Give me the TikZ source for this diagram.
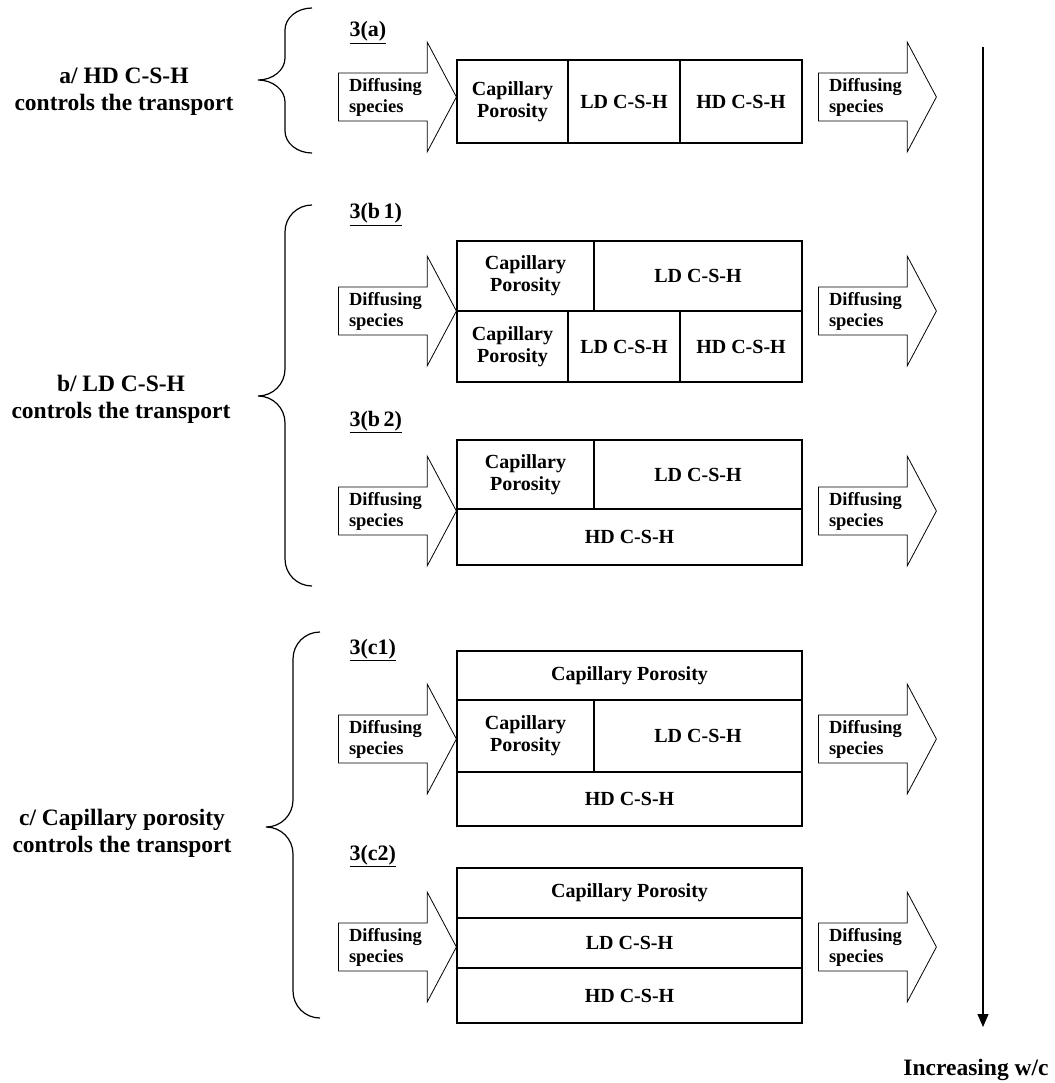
\documentclass[tikz,border=0pt]{standalone}
\usepackage{fontspec}
\setmainfont{Liberation Serif}
\usepackage{tikz}
\usetikzlibrary{positioning, arrows.meta, shapes.arrows}

\begin{document}
\begin{tikzpicture}[
    x=1pt, y=-1pt,
    cell/.style={draw, line width=1.3pt, inner sep=0pt, outer sep=0pt, anchor=north west, align=center, font=\fontsize{20}{22}\selectfont\bfseries},
    hline/.style={line width=2.6pt},
    flow/.style={single arrow, draw, line width=0.8pt, minimum height=118pt, minimum width=110pt, single arrow head extend=27.5pt, single arrow tip angle=124, inner xsep=1pt, inner ysep=2pt, text width=84pt, align=left, font=\fontsize{18.5}{21}\selectfont\bfseries},
    tag/.style={anchor=base west, font=\fontsize{22}{24}\selectfont\bfseries},
    side/.style={align=center, font=\fontsize{23.5}{27}\selectfont\bfseries},
    curly/.style={line width=1.2pt},
    axis/.style={line width=1.2pt, -{Triangle[length=13pt, width=11pt]}}
]
    \useasboundingbox (0,0) rectangle (1054,1083);

    \def\xl{457}  % left edge of the layers
    \def\xin{391} % incoming arrows
    \def\xout{871} % outgoing arrows

    % left texts
    \node[side] (lbla) at (124,92) {a/ HD C-S-H\\controls the transport};
    \node[side] (lblb) at (121,399) {b/ LD C-S-H\\controls the transport};
    \node[side] (lblc) at (122,833) {c/ Capillary porosity\\controls the transport};

    % braces
    \draw[curly] (312,8) .. controls (297,8) and (285,18) .. (285,30) -- (285,58) .. controls (285,70) and (273,80) .. (258,80)
        .. controls (273,80) and (285,90) .. (285,102) -- (285,131) .. controls (285,143) and (297,153) .. (312,153);
    \draw[curly] (312,205) .. controls (297,205) and (285,217) .. (285,232) -- (285,369) .. controls (285,384) and (273,396) .. (258,396)
        .. controls (273,396) and (285,408) .. (285,423) -- (285,559) .. controls (285,574) and (297,586) .. (312,586);
    \draw[curly] (320,632) .. controls (305,632) and (293,644) .. (293,659) -- (293,800) .. controls (293,815) and (281,827) .. (266,827)
        .. controls (281,827) and (293,839) .. (293,854) -- (293,991) .. controls (293,1006) and (305,1018) .. (320,1018);

    % 3(a)
    \node[tag] (taga) at (346,37) {\underline{3(a)}};
    \node[cell, minimum width=111, minimum height=83] (acap) at (\xl,60) {Capillary\\Porosity};
    \node[cell, minimum width=112, minimum height=83, right=0pt of acap] (ald) {LD C-S-H};
    \node[cell, minimum width=122, minimum height=83, right=0pt of ald] (ahd) {HD C-S-H};
    \draw[hline] (acap.north west) -- (ahd.north east);
    \draw[hline] (acap.south west) -- (ahd.south east);
    \node[flow] (ina) at (\xin,97) {Diffusing\\species};
    \node[flow] (outa) at (\xout,97) {Diffusing\\species};

    % 3(b 1)
    \node[tag] (tagb1) at (346,219) {\underline{3(b\,1)}};
    \node[cell, minimum width=137, minimum height=70] (b1cap) at (\xl,241) {Capillary\\Porosity};
    \node[cell, minimum width=208, minimum height=70, right=0pt of b1cap] (b1ld) {LD C-S-H};
    \node[cell, minimum width=111, minimum height=71] (b1cap2) at (\xl,311) {Capillary\\Porosity};
    \node[cell, minimum width=112, minimum height=71, right=0pt of b1cap2] (b1ld2) {LD C-S-H};
    \node[cell, minimum width=122, minimum height=71, right=0pt of b1ld2] (b1hd) {HD C-S-H};
    \draw[hline] (b1cap.north west) -- (b1ld.north east);
    \draw[hline] (b1cap2.north west) -- (b1hd.north east);
    \draw[hline] (b1cap2.south west) -- (b1hd.south east);
    \node[flow] (inb1) at (\xin,311) {Diffusing\\species};
    \node[flow] (outb1) at (\xout,311) {Diffusing\\species};

    % 3(b 2)
    \node[tag] (tagb2) at (346,426) {\underline{3(b\,2)}};
    \node[cell, minimum width=137, minimum height=69] (b2cap) at (\xl,440) {Capillary\\Porosity};
    \node[cell, minimum width=208, minimum height=69, right=0pt of b2cap] (b2ld) {LD C-S-H};
    \node[cell, minimum width=345, minimum height=56] (b2hd) at (\xl,509) {HD C-S-H};
    \draw[hline] (b2cap.north west) -- (b2ld.north east);
    \draw[hline] (b2hd.north west) -- (b2hd.north east);
    \draw[hline] (b2hd.south west) -- (b2hd.south east);
    \node[flow] (inb2) at (\xin,511) {Diffusing\\species};
    \node[flow] (outb2) at (\xout,511) {Diffusing\\species};

    % 3(c1)
    \node[tag] (tagc1) at (346,654) {\underline{3(c1)}};
    \node[cell, minimum width=345, minimum height=49] (c1cap) at (\xl,651) {Capillary Porosity};
    \node[cell, minimum width=137, minimum height=72] (c1cap2) at (\xl,700) {Capillary\\Porosity};
    \node[cell, minimum width=208, minimum height=72, right=0pt of c1cap2] (c1ld) {LD C-S-H};
    \node[cell, minimum width=345, minimum height=54] (c1hd) at (\xl,772) {HD C-S-H};
    \draw[hline] (c1cap.north west) -- (c1cap.north east);
    \draw[hline] (c1cap.south west) -- (c1cap.south east);
    \draw[hline] (c1hd.north west) -- (c1hd.north east);
    \draw[hline] (c1hd.south west) -- (c1hd.south east);
    \node[flow] (inc1) at (\xin,739) {Diffusing\\species};
    \node[flow] (outc1) at (\xout,739) {Diffusing\\species};

    % 3(c2)
    \node[tag] (tagc2) at (346,860) {\underline{3(c2)}};
    \node[cell, minimum width=345, minimum height=50] (c2cap) at (\xl,868) {Capillary Porosity};
    \node[cell, minimum width=345, minimum height=50] (c2ld) at (\xl,918) {LD C-S-H};
    \node[cell, minimum width=345, minimum height=55] (c2hd) at (\xl,968) {HD C-S-H};
    \draw[hline] (c2cap.north west) -- (c2cap.north east);
    \draw[hline] (c2ld.north west) -- (c2ld.north east);
    \draw[hline] (c2hd.north west) -- (c2hd.north east);
    \draw[hline] (c2hd.south west) -- (c2hd.south east);
    \node[flow] (inc2) at (\xin,947) {Diffusing\\species};
    \node[flow] (outc2) at (\xout,947) {Diffusing\\species};

    % w/c axis
    \coordinate (wtop) at (983,47);
    \coordinate (wbot) at (983,1027);
    \draw[axis] (wtop) -- (wbot);
    \node[side] (wc) at (976,1070) {Increasing w/c};
\end{tikzpicture}
\end{document}
